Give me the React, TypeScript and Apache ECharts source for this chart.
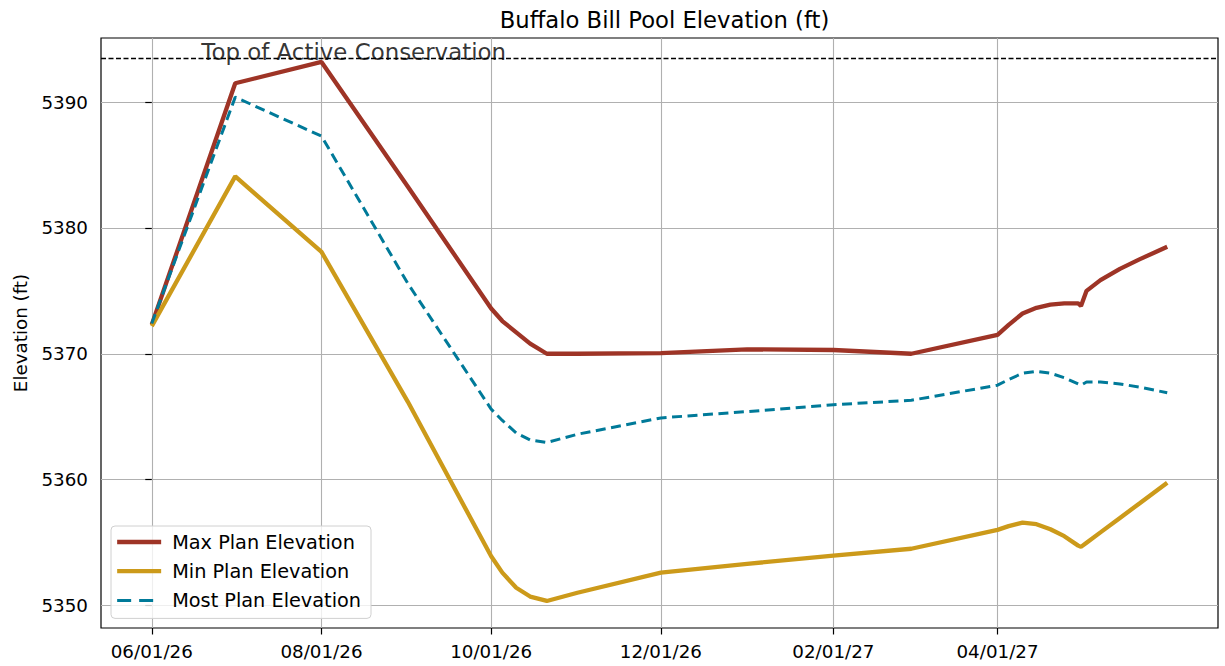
import React, { useEffect, useRef } from 'react';
import * as echarts from 'echarts';

// ---- data ----
const seriesDates = [
  '2026-06-01', '2026-07-01', '2026-08-01', '2026-09-01', '2026-10-01',
  '2026-10-05', '2026-10-10', '2026-10-15', '2026-10-21', '2026-11-01',
  '2026-12-01', '2027-01-01', '2027-02-01', '2027-03-01', '2027-04-01',
  '2027-04-05', '2027-04-10', '2027-04-15', '2027-04-20', '2027-04-25',
  '2027-04-30', '2027-05-01', '2027-05-03', '2027-05-08', '2027-05-15',
  '2027-05-22', '2027-06-01',
];
const maxPlan = [
  5372.3, 5391.5, 5393.2, 5383.3, 5373.6,
  5372.6, 5371.7, 5370.8, 5370.0, 5370.0,
  5370.05, 5370.35, 5370.3, 5370.0, 5371.5,
  5372.3, 5373.2, 5373.65, 5373.9, 5374.0,
  5374.0, 5373.8, 5375.0, 5375.85, 5376.75,
  5377.5, 5378.5,
];
const minPlan = [
  5372.2, 5384.1, 5378.1, 5366.2, 5353.9,
  5352.6, 5351.4, 5350.7, 5350.35, 5351.0,
  5352.6, 5353.3, 5353.95, 5354.5, 5356.0,
  5356.3, 5356.58, 5356.45, 5356.05, 5355.5,
  5354.75, 5354.65, 5354.98, 5355.8, 5356.95,
  5358.1, 5359.75,
];
const mostPlan = [
  5372.4, 5390.4, 5387.3, 5375.6, 5365.6,
  5364.7, 5363.7, 5363.15, 5362.95, 5363.6,
  5364.9, 5365.4, 5365.95, 5366.3, 5367.5,
  5367.95, 5368.45, 5368.6, 5368.45, 5368.1,
  5367.6, 5367.5, 5367.75, 5367.75, 5367.6,
  5367.35, 5366.9,
];
const tickDates = ['2026-06-01', '2026-08-01', '2026-10-01', '2026-12-01', '2027-02-01', '2027-04-01'];
const yTicks = [5350, 5360, 5370, 5380, 5390];
const yRange = [5348.2, 5395.1];
const topOfActive = 5393.5;
const topLabelDate = '2026-06-19';
const topLabelText = 'Top of Active Conservation';
const titleText = 'Buffalo Bill Pool Elevation (ft)';
const yName = 'Elevation (ft)';
const names = ['Max Plan Elevation', 'Min Plan Elevation', 'Most Plan Elevation'];

// ---- helpers ----
const BASE = Date.UTC(2026, 5, 1);
const DAY = 86400000;
const dayOf = (s: string) => (Date.parse(s + 'T00:00:00Z') - BASE) / DAY;
const fmtDay = (d: number) => {
  const dt = new Date(BASE + Math.round(d) * DAY);
  const mm = String(dt.getUTCMonth() + 1).padStart(2, '0');
  const dd = String(dt.getUTCDate()).padStart(2, '0');
  const yy = String(dt.getUTCFullYear() % 100).padStart(2, '0');
  return `${mm}/${dd}/${yy}`;
};

const FONT = 'DejaVu Sans';
const RED = '#9e3426';
const GOLD = '#cc9a1a';
const BLUE = '#007a99';

export default function App() {
  const ref = useRef<HTMLDivElement>(null);

  useEffect(() => {
    if (!ref.current) return;
    const chart = echarts.init(ref.current, undefined, { renderer: 'svg' });

    const xs = seriesDates.map(dayOf);
    const first = xs[0];
    const last = xs[xs.length - 1];
    const pad = (last - first) * 0.05;
    const xTicks = tickDates.map(dayOf);

    const mk = (vals: number[]) => xs.map((x, i) => [x, vals[i]]);
    const hiddenSym = { opacity: 0, color: 'rgba(0,0,0,0)', borderWidth: 0 };

    chart.setOption({
      animation: false,
      backgroundColor: '#fff',
      title: {
        text: titleText,
        left: 659.5,
        top: 3,
        textAlign: 'center',
        textStyle: { fontFamily: FONT, fontSize: 22.7, fontWeight: 'normal', color: '#000' },
      },
      grid: {
        left: 101, right: 7, top: 38, bottom: 38,
        show: true, borderColor: '#000', borderWidth: 1.2, backgroundColor: 'transparent',
      },
      legend: {
        data: [
          { name: names[0], lineStyle: { width: 4.3 }, itemStyle: hiddenSym },
          { name: names[1], lineStyle: { width: 4.3 }, itemStyle: hiddenSym },
          { name: names[2], lineStyle: { width: 3, type: [14, 8] }, itemStyle: hiddenSym },
        ],
        orient: 'vertical',
        left: 111,
        top: 526,
        itemWidth: 44,
        itemHeight: 14,
        itemGap: 9.2,
        padding: [6, 10, 8, 4],
        backgroundColor: 'rgba(255,255,255,0.8)',
        borderColor: '#d0d0d0',
        borderWidth: 1,
        borderRadius: 4,
        textStyle: { fontFamily: FONT, fontSize: 19.3, color: '#000', lineHeight: 20, padding: [0, 0, 0, 6] },
      },
      xAxis: {
        type: 'value',
        min: first - pad,
        max: last + pad,
        axisLine: { show: false },
        axisTick: { show: true, customValues: xTicks, length: 6.5, lineStyle: { color: '#000', width: 1.2 } },
        axisLabel: {
          customValues: xTicks,
          formatter: (v: number) => fmtDay(v),
          fontFamily: FONT, fontSize: 18.3, color: '#000', margin: 13, lineHeight: 20,
        },
        splitLine: { show: true, lineStyle: { color: '#b0b0b0', width: 1.1 } },
      },
      yAxis: {
        type: 'value',
        min: yRange[0],
        max: yRange[1],
        name: yName,
        nameLocation: 'middle',
        nameGap: 72,
        nameTextStyle: { fontFamily: FONT, fontSize: 18.3, color: '#000' },
        axisLine: { show: false },
        axisTick: { show: true, customValues: yTicks, length: 6.5, lineStyle: { color: '#000', width: 1.2 } },
        axisLabel: {
          customValues: yTicks,
          formatter: (v: number) => String(v),
          fontFamily: FONT, fontSize: 18.3, color: '#000', margin: 13,
        },
        splitLine: { show: true, lineStyle: { color: '#b0b0b0', width: 1.1 } },
      },
      series: [
        {
          name: names[0], type: 'line', data: mk(maxPlan),
          symbol: 'none', showSymbol: false,
          lineStyle: { color: RED, width: 4.3 }, itemStyle: { color: RED },
          z: 3,
          markLine: {
            silent: true, symbol: 'none', animation: false,
            label: { show: false },
            lineStyle: { color: '#000', width: 1.3, type: [5, 2.5] },
            data: [{ yAxis: topOfActive }],
          },
        },
        {
          name: names[1], type: 'line', data: mk(minPlan),
          symbol: 'none', showSymbol: false,
          lineStyle: { color: GOLD, width: 4.3 }, itemStyle: { color: GOLD },
          z: 3,
        },
        {
          name: names[2], type: 'line', data: mk(mostPlan),
          symbol: 'none', showSymbol: false,
          lineStyle: { color: BLUE, width: 3, type: [10, 5.5] }, itemStyle: { color: BLUE },
          z: 4,
        },
        {
          name: 'topLabel', type: 'scatter',
          data: [[dayOf(topLabelDate), topOfActive]],
          symbolSize: 1, silent: true,
          itemStyle: { color: 'rgba(0,0,0,0)' },
          label: {
            show: true, formatter: topLabelText,
            position: [0, 0], align: 'left', verticalAlign: 'bottom', offset: [0, 6],
            fontFamily: FONT, fontSize: 22.9, color: '#000',
          },
          z: 6,
        },
      ],
    });

    return () => chart.dispose();
  }, []);

  return (
    <div
      ref={ref}
      style={{ position: 'fixed', left: 0, top: 0, width: 1225, height: 666, background: '#fff' }}
    />
  );
}
